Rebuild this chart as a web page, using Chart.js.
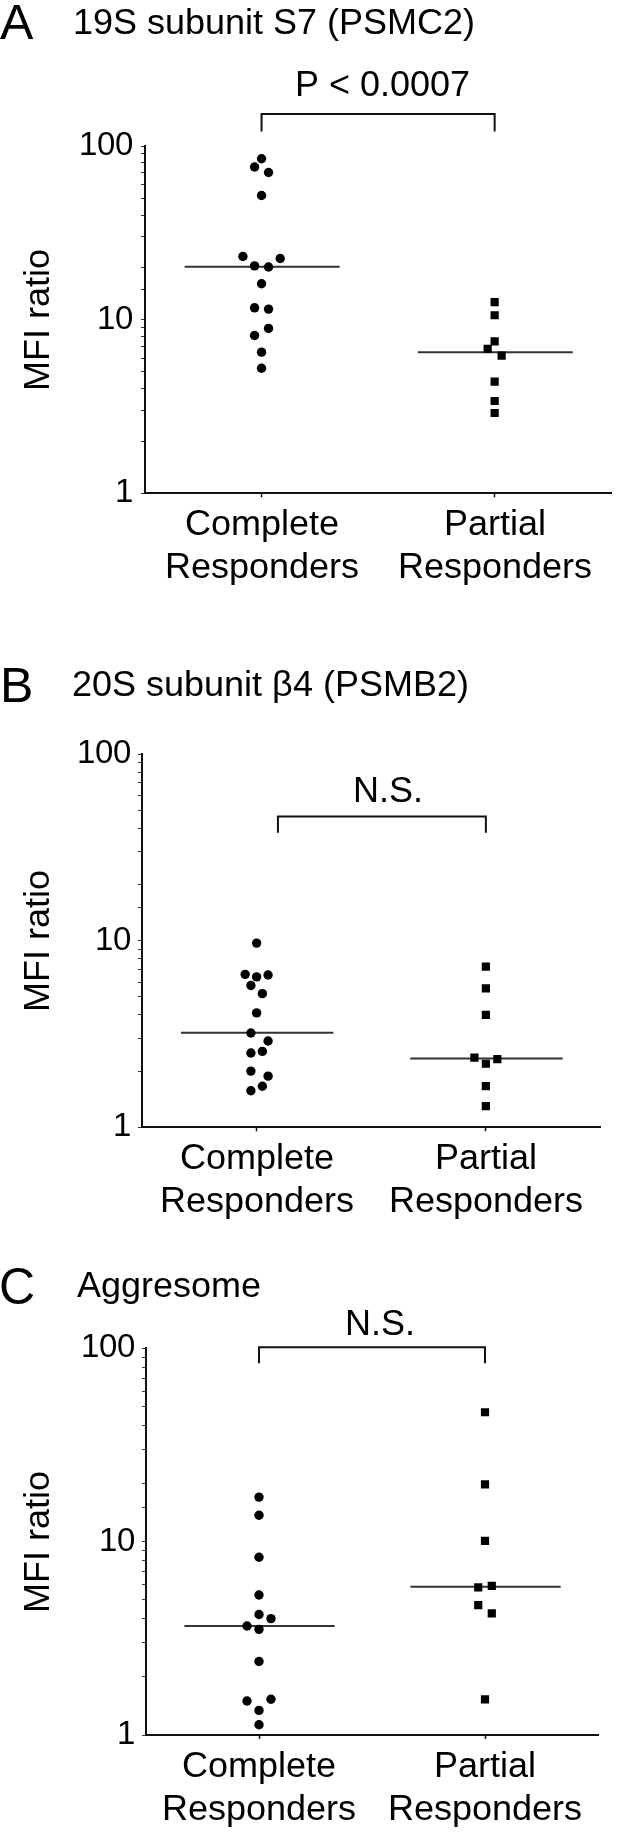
<!DOCTYPE html>
<html>
<head>
<meta charset="utf-8">
<script src="https://cdn.jsdelivr.net/npm/chart.js@4.4.1/dist/chart.umd.min.js"></script>
<style>
  @font-face {
    font-family: 'RefSans';
    src: local('LiberationSans'), local('Liberation Sans Regular'), local('LiberationSans-Regular'), local('Liberation Sans'), local('Arial');
  }
  html, body { margin: 0; padding: 0; background: #fff; }
  #wrap { position: relative; width: 617px; height: 1836px; }
  canvas { position: absolute; left: 0; }
</style>
</head>
<body>
<div id="wrap">
  <canvas id="panelA" width="617" height="612" style="top:0"></canvas>
  <canvas id="panelB" width="617" height="612" style="top:612px"></canvas>
  <canvas id="panelC" width="617" height="612" style="top:1224px"></canvas>
</div>
<script>
// categories on the x axis (1 = complete, 2 = partial)
const groups = [['Complete', 'Responders'], ['Partial', 'Responders']];
const yTickLabels = [1, 10, 100];

// A - 19S subunit S7 (PSMC2)
const aComplete = [84.5, 75.7, 70.4, 51.9, 23.1, 22.5, 20.4, 20.1, 16.1, 11.7, 11.5, 8.9, 8.1, 6.5, 5.25];
const aCompleteX = [1, 0.97, 1.03, 1, 0.92, 1.08, 0.97, 1.03, 1, 0.97, 1.03, 1.03, 0.97, 1, 1];
const aPartial = [12.6, 10.6, 7.5, 6.8, 6.2, 4.4, 3.4, 2.9];
const aPartialX = [2, 2, 2, 1.97, 2.03, 2, 2, 2];
const aMedians = [20.2, 6.5];

// B - 20S subunit beta4 (PSMB2)
const bComplete = [9.7, 6.6, 6.4, 6.55, 5.75, 5.2, 4.1, 3.2, 2.9, 2.5, 2.55, 2.0, 1.88, 1.57, 1.66];
const bCompleteX = [1, 0.95, 1, 1.05, 0.975, 1.025, 1, 0.975, 1.05, 0.975, 1.025, 0.975, 1.05, 0.975, 1.025];
const bPartial = [7.25, 5.55, 4.0, 2.36, 2.32, 2.19, 1.66, 1.3];
const bPartialX = [2, 2, 2, 1.95, 2.05, 2, 2, 2];
const bMedians = [3.21, 2.34];

// C - Aggresome
const cComplete = [17.0, 13.7, 8.3, 5.3, 4.2, 4.0, 3.66, 3.52, 2.4, 1.5, 1.53, 1.34, 1.13];
const cCompleteX = [1, 1, 1, 1, 1, 1.053, 0.947, 1, 1, 0.947, 1.053, 1, 1];
const cPartial = [46.7, 19.8, 10.1, 5.8, 5.9, 4.7, 4.26, 1.53];
const cPartialX = [2, 2, 2, 1.97, 2.03, 1.97, 2.03, 2];
const cMedians = [3.66, 5.85];

const FONT = 'RefSans, Arial, "Liberation Sans", sans-serif';
Chart.defaults.font.family = FONT;
Chart.defaults.color = '#000';

// panel letter, title and the significance text over the bracket
const panelText = {
  id: 'panelText',
  afterDraw(chart, args, o) {
    const ctx = chart.ctx;
    const xs = chart.scales.x, ys = chart.scales.y;
    ctx.save();
    ctx.fillStyle = '#000';
    ctx.textBaseline = 'alphabetic';
    ctx.font = '50px ' + FONT;
    ctx.fillText(o.letter, o.letterX, o.letterY);
    ctx.font = '36px ' + FONT;
    ctx.fillText(o.title, o.titleX, o.titleY);
    ctx.textAlign = 'center';
    ctx.fillText(o.sig, xs.getPixelForValue(o.sigX), ys.getPixelForValue(o.bracket[1]) - o.sigGap);
    ctx.restore();
  }
};

function pts(xs, ys) {
  return ys.map((v, i) => ({ x: xs[i], y: v }));
}

function makePanel(id, p) {
  const [bx1, bx2] = p.bracketX;
  const [bLow, bHigh] = p.bracket;
  new Chart(document.getElementById(id), {
    type: 'scatter',
    data: {
      datasets: [
        { data: pts(p.completeX, p.complete), pointStyle: 'circle', pointRadius: 4.7,
          backgroundColor: '#000', borderWidth: 0 },
        { data: pts(p.partialX, p.partial), pointStyle: 'rect', pointRadius: 5.8,
          backgroundColor: '#000', borderWidth: 0 },
        { data: [{ x: 0.67, y: p.medians[0] }, { x: 1.335, y: p.medians[0] }], showLine: true,
          pointRadius: 0, borderColor: '#333', borderWidth: 2 },
        { data: [{ x: 1.67, y: p.medians[1] }, { x: 2.335, y: p.medians[1] }], showLine: true,
          pointRadius: 0, borderColor: '#333', borderWidth: 2 },
        { data: [{ x: bx1, y: bLow }, { x: bx1, y: bHigh }, { x: bx2, y: bHigh }, { x: bx2, y: bLow }],
          showLine: true, pointRadius: 0, borderColor: '#111', borderWidth: 2, clip: false }
      ]
    },
    options: {
      responsive: false,
      animation: false,
      events: [],
      layout: { padding: { top: p.top, right: p.right, left: 0, bottom: 0 } },
      plugins: {
        legend: { display: false },
        tooltip: { enabled: false },
        panelText: p.text
      },
      scales: {
        x: {
          type: 'linear', min: 0.5, max: 2.5,
          afterBuildTicks: s => { s.ticks = [{ value: 1 }, { value: 2 }]; },
          afterFit: s => { s.height = p.xAxisH; },
          border: { display: true, color: '#111', width: 2 },
          grid: { display: true, drawOnChartArea: false, tickLength: 4, tickColor: '#111', tickWidth: 1.5 },
          ticks: { autoSkip: false, maxRotation: 0, padding: 6, color: '#000',
                   font: { size: 36, lineHeight: 1.2 },
                   callback: v => groups[Math.round(v) - 1] }
        },
        y: {
          type: 'logarithmic', min: 1, max: 100,
          afterFit: s => { s.width = p.yAxisW; },
          border: { display: true, color: '#111', width: 2 },
          grid: { display: true, drawOnChartArea: false, tickLength: 4, tickColor: '#333', tickWidth: 1 },
          ticks: { autoSkip: false, padding: p.yPad, color: '#000', font: { size: 33 },
                   callback: v => yTickLabels.includes(v) ? String(v) : '' },
          title: { display: true, text: 'MFI ratio', color: '#000', font: { size: 36 },
                   padding: { top: 17, bottom: 0 } }
        }
      }
    },
    plugins: [panelText]
  });
}

function drawAll() {
  makePanel('panelA', {
    complete: aComplete, completeX: aCompleteX, partial: aPartial, partialX: aPartialX, medians: aMedians,
    bracketX: [1, 2], bracket: [121, 153],
    top: 146, right: 4, yAxisW: 145, xAxisH: 118.7, yPad: 8,
    text: { letter: 'A', letterX: 0, letterY: 39, title: '19S subunit S7 (PSMC2)', titleX: 73, titleY: 34,
            sig: 'P < 0.0007', sigX: 1.52, sigGap: 17.5, bracket: [121, 153] }
  });

  makePanel('panelB', {
    complete: bComplete, completeX: bCompleteX, partial: bPartial, partialX: bPartialX, medians: bMedians,
    bracketX: [1.093, 2], bracket: [37.8, 46.3],
    top: 142, right: 16.5, yAxisW: 142, xAxisH: 96.7, yPad: 7,
    text: { letter: 'B', letterX: 0, letterY: 90, title: '20S subunit \u03b24 (PSMB2)', titleX: 72, titleY: 84,
            sig: 'N.S.', sigX: 1.574, sigGap: 14.5, bracket: [37.8, 46.3] }
  });

  makePanel('panelC', {
    complete: cComplete, completeX: cCompleteX, partial: cPartial, partialX: cPartialX, medians: cMedians,
    bracketX: [1, 2], bracket: [83.7, 101.3],
    top: 124.3, right: 19, yAxisW: 146, xAxisH: 101, yPad: 7,
    text: { letter: 'C', letterX: -1, letterY: 79, title: 'Aggresome', titleX: 77, titleY: 72.7,
            sig: 'N.S.', sigX: 1.535, sigGap: 12.3, bracket: [83.7, 101.3] }
  });
}

document.fonts.load('36px RefSans').then(drawAll, drawAll);
</script>
</body>
</html>
